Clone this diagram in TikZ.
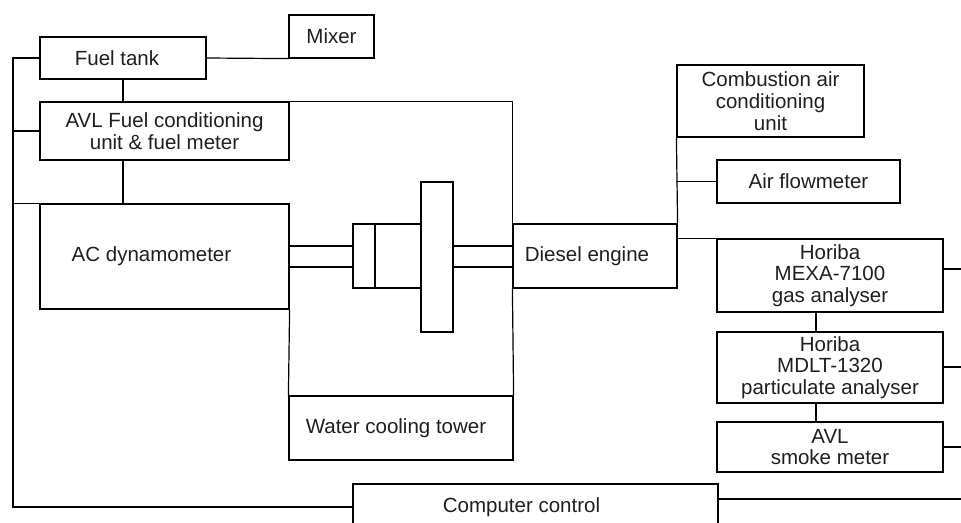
\documentclass[tikz,border=0pt]{standalone}
\usepackage{fontspec}
\setmainfont{Liberation Sans}
\newcommand{\diagfont}{\fontsize{20.5}{21.5}\selectfont}
\begin{document}
\begin{tikzpicture}[x=1pt,y=-1pt,
  line width=1.2pt,
  box/.style={draw, rectangle, inner sep=0pt, font=\diagfont, align=center, text=black!88},
  txt/.style={font=\diagfont, text=black!88, inner sep=0pt}]
\useasboundingbox (0,0) rectangle (961,522);
\clip (0,0) rectangle (961,522);
% boxes
\node[box, minimum width=85pt, minimum height=43pt] (mix) at (331.5,36.5) {Mixer};
\node[box, minimum width=166pt, minimum height=42pt] (ft) at (123,58) {};
\node[txt] at ([xshift=-6pt]ft.center) {Fuel tank};
\node[box, minimum width=249pt, minimum height=58pt] (avl) at (164.5,131) {AVL Fuel conditioning\\unit \& fuel meter};
\node[box, minimum width=249pt, minimum height=105pt] (ac) at (164.5,256.5) {};
\node[txt] at ([xshift=-13pt]ac.center) {AC dynamometer};
\node[box, minimum width=224pt, minimum height=64pt] (wct) at (401,428) {};
\node[txt] at ([xshift=-5pt]wct.center) {Water cooling tower};
\node[box, minimum width=164pt, minimum height=64pt] (de) at (595,256) {};
\node[txt] at ([xshift=-8pt]de.center) {Diesel engine};
\node[box, minimum width=187pt, minimum height=72pt, font=\fontsize{20.5}{22}\selectfont] (comb) at (770.5,101) {Combustion air\\conditioning\\unit};
\node[box, minimum width=183pt, minimum height=43pt] (af) at (808.5,181.5) {Air flowmeter};
\node[box, minimum width=226pt, minimum height=73pt] (mexa) at (830,275.5) {Horiba\\MEXA-7100\\gas analyser};
\node[box, minimum width=226pt, minimum height=71pt] (mdlt) at (830,367.5) {Horiba\\MDLT-1320\\particulate analyser};
\node[box, minimum width=226pt, minimum height=50pt] (sm) at (830,447) {AVL\\smoke meter};
\node[box, minimum width=365pt, minimum height=46pt] (cc) at (535.5,507) {};
\node[txt] at ([xshift=-14pt]cc.center) {Computer control};
% shaft, coupling and flywheel
\draw (289,246) -- (353,246) (289,267) -- (353,267);
\draw (353,224) rectangle (375,288);
\draw (375,224) rectangle (421,288);
\draw (421,182) rectangle (453,332);
\draw (453,246) -- (513,246) (453,267) -- (513,267);
% bus and connectors
\coordinate (bus) at (13,58);
\coordinate (r1) at (961,269);
\coordinate (r2) at (961,367);
\coordinate (r3) at (961,447);
\coordinate (r4) at (961,499);
\draw (ft.west) -- (bus) |- (cc.west);
\draw (avl.west) -- (avl.west -| bus);
\draw (ac.north west) -- (ac.north west -| bus);
\draw (ft.east) -- (mix.south west);
\draw (ft.south) -- (ft.south |- avl.north);
\draw (avl.south -| ft.south) -- (ac.north -| ft.south);
\draw (avl.north east) -| (de.north west);
\draw (ac.south east) -- (wct.north west);
\draw (de.south west) -- (wct.north east);
\draw (comb.south west) -- (de.north east);
\draw (af.west) -- (af.west -| comb.west);
\draw (mexa.north west) -- (mexa.north west -| de.east);
\draw ([xshift=-14pt]mexa.south) -- ([xshift=-14pt]mdlt.north);
\draw ([xshift=-14pt]mdlt.south) -- ([xshift=-14pt]sm.north);
\draw (mexa.east |- r1) -- (r1);
\draw (mdlt.east |- r2) -- (r2);
\draw (sm.east |- r3) -- (r3);
\draw (cc.east |- r4) -- (r4);
\end{tikzpicture}
\end{document}
